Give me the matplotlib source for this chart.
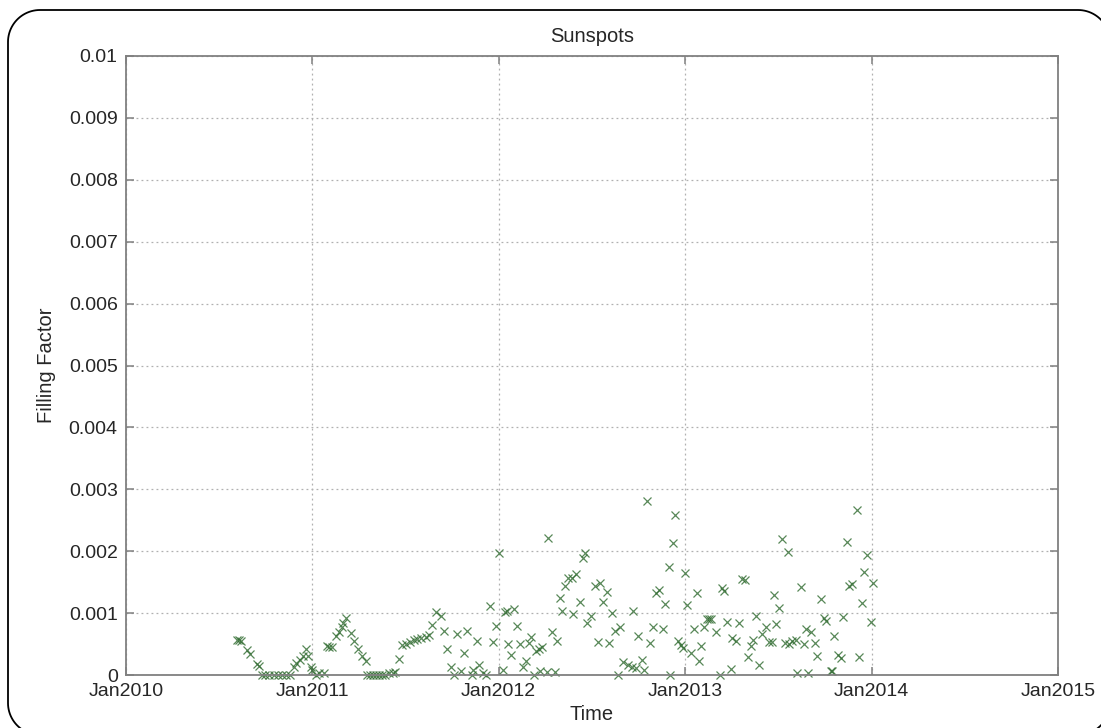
import matplotlib
matplotlib.use("Agg")
import matplotlib.pyplot as plt
import matplotlib.dates as mdates
from matplotlib.patches import Polygon
from matplotlib.ticker import FixedLocator, FuncFormatter
from matplotlib.transforms import IdentityTransform
import numpy as np
import pandas as pd

plt.rcParams['font.family'] = ['Liberation Sans', 'DejaVu Sans']

# ---- data ----
dates_2010 = ["2010-08-07", "2010-08-11", "2010-08-15", "2010-08-27", "2010-09-01", "2010-09-15",
              "2010-09-19", "2010-09-25", "2010-10-01", "2010-10-09", "2010-10-17", "2010-10-25",
              "2010-11-02", "2010-11-10", "2010-11-18", "2010-11-26", "2010-12-01", "2010-12-07",
              "2010-12-13", "2010-12-19", "2010-12-23", "2010-12-29"]
vals_2010 = [0.00056, 0.00057, 0.00055, 0.00040, 0.00034, 0.00018,
             0.00015, 0.0, 0.0, 0.0, 0.0, 0.0,
             0.0, 0.0, 0.0, 0.00013, 0.00020, 0.00024,
             0.00030, 0.00042, 0.00030, 0.00013]

dates_2011 = ["2011-01-01", "2011-01-09", "2011-01-15", "2011-01-23", "2011-01-29", "2011-02-03",
              "2011-02-09", "2011-02-17", "2011-02-23", "2011-03-01", "2011-03-03", "2011-03-09",
              "2011-03-17", "2011-03-23", "2011-03-31", "2011-04-08", "2011-04-16", "2011-04-18",
              "2011-04-24", "2011-04-30", "2011-05-06", "2011-05-12", "2011-05-18", "2011-05-24",
              "2011-06-01", "2011-06-09", "2011-06-13", "2011-06-19", "2011-06-25", "2011-07-03",
              "2011-07-11", "2011-07-19", "2011-07-25", "2011-08-01", "2011-08-11", "2011-08-17",
              "2011-08-23", "2011-09-01", "2011-09-11", "2011-09-17", "2011-09-21", "2011-09-29",
              "2011-10-05", "2011-10-11", "2011-10-19", "2011-10-25", "2011-11-01", "2011-11-09",
              "2011-11-11", "2011-11-19", "2011-11-23", "2011-12-01", "2011-12-07", "2011-12-15",
              "2011-12-21", "2011-12-27"]
vals_2011 = [0.00008, 0.0, 0.00003, 0.00003, 0.00047, 0.00046,
             0.00045, 0.00063, 0.00070, 0.00078, 0.00084, 0.00092,
             0.00068, 0.00055, 0.00042, 0.00030, 0.00023, 0.0,
             0.0, 0.0, 0.0, 0.0, 0.0, 0.0,
             0.00003, 0.00004, 0.00005, 0.00026, 0.00048, 0.00050,
             0.00053, 0.00056, 0.00058, 0.00060, 0.00062, 0.00065,
             0.00081, 0.00102, 0.00095, 0.00071, 0.00042, 0.00013,
             0.0, 0.00066, 0.00006, 0.00035, 0.00071, 0.0,
             0.00008, 0.00055, 0.00016, 0.00003, 0.0, 0.00111,
             0.00053, 0.00079]

dates_2012 = ["2012-01-01", "2012-01-09", "2012-01-13", "2012-01-18", "2012-01-20", "2012-01-25",
              "2012-01-31", "2012-02-06", "2012-02-12", "2012-02-18", "2012-02-24", "2012-03-01",
              "2012-03-05", "2012-03-11", "2012-03-15", "2012-03-20", "2012-03-22", "2012-03-27",
              "2012-04-04", "2012-04-06", "2012-04-14", "2012-04-20", "2012-04-24", "2012-05-01",
              "2012-05-05", "2012-05-11", "2012-05-15", "2012-05-24", "2012-05-26", "2012-06-01",
              "2012-06-09", "2012-06-15", "2012-06-19", "2012-06-23", "2012-07-01", "2012-07-07",
              "2012-07-13", "2012-07-17", "2012-07-23", "2012-07-31", "2012-08-05", "2012-08-11",
              "2012-08-17", "2012-08-21", "2012-08-25", "2012-09-01", "2012-09-11", "2012-09-19",
              "2012-09-21", "2012-09-27", "2012-10-01", "2012-10-07", "2012-10-11", "2012-10-17",
              "2012-10-23", "2012-10-29", "2012-11-05", "2012-11-11", "2012-11-19", "2012-11-23",
              "2012-11-29", "2012-12-01", "2012-12-07", "2012-12-11", "2012-12-17", "2012-12-23",
              "2012-12-27", "2012-12-31"]
vals_2012 = [0.00197, 0.00008, 0.00102, 0.00103, 0.00050, 0.00032,
             0.00107, 0.00079, 0.00050, 0.00013, 0.00023, 0.00052,
             0.00061, 0.0, 0.00039, 0.00042, 0.00006, 0.00045,
             0.00005, 0.00221, 0.00069, 0.00005, 0.00055, 0.00124,
             0.00103, 0.00143, 0.00157, 0.00157, 0.00099, 0.00163,
             0.00118, 0.00189, 0.00197, 0.00084, 0.00095, 0.00144,
             0.00053, 0.00149, 0.00118, 0.00134, 0.00052, 0.00100,
             0.00071, 0.0, 0.00078, 0.00021, 0.00016, 0.00013,
             0.00103, 0.00011, 0.00063, 0.00024, 0.00008, 0.00281,
             0.00052, 0.00078, 0.00132, 0.00137, 0.00074, 0.00115,
             0.00174, 0.0, 0.00213, 0.00258, 0.00055, 0.00048,
             0.00044, 0.00165]

dates_2013 = ["2013-01-05", "2013-01-11", "2013-01-17", "2013-01-23", "2013-01-27", "2013-02-01",
              "2013-02-07", "2013-02-13", "2013-02-17", "2013-02-21", "2013-03-01", "2013-03-09",
              "2013-03-13", "2013-03-17", "2013-03-23", "2013-03-31", "2013-04-02", "2013-04-10",
              "2013-04-16", "2013-04-22", "2013-04-28", "2013-05-03", "2013-05-09", "2013-05-13",
              "2013-05-19", "2013-05-25", "2013-06-01", "2013-06-07", "2013-06-13", "2013-06-19",
              "2013-06-23", "2013-06-27", "2013-07-03", "2013-07-09", "2013-07-15", "2013-07-21",
              "2013-07-23", "2013-07-29", "2013-08-05", "2013-08-07", "2013-08-15", "2013-08-21",
              "2013-08-25", "2013-08-29", "2013-09-04", "2013-09-12", "2013-09-16", "2013-09-24",
              "2013-09-30", "2013-10-03", "2013-10-13", "2013-10-15", "2013-10-19", "2013-10-27",
              "2013-11-02", "2013-11-06", "2013-11-14", "2013-11-18", "2013-11-24", "2013-12-03",
              "2013-12-07", "2013-12-13", "2013-12-17", "2013-12-23", "2013-12-31", "2014-01-03"]
vals_2013 = [0.00113, 0.00035, 0.00074, 0.00132, 0.00023, 0.00047,
             0.00078, 0.00090, 0.00091, 0.00090, 0.00069, 0.0,
             0.00140, 0.00136, 0.00086, 0.00010, 0.00060, 0.00055,
             0.00084, 0.00155, 0.00153, 0.00029, 0.00047, 0.00057,
             0.00095, 0.00016, 0.00066, 0.00078, 0.00053, 0.00053,
             0.00129, 0.00082, 0.00108, 0.00220, 0.00052, 0.00199,
             0.00050, 0.00055, 0.00057, 0.00003, 0.00142, 0.00050,
             0.00074, 0.00003, 0.00069, 0.00052, 0.00031, 0.00123,
             0.00092, 0.00087, 0.00006, 0.00006, 0.00063, 0.00032,
             0.00027, 0.00094, 0.00215, 0.00144, 0.00147, 0.00267,
             0.00029, 0.00116, 0.00166, 0.00194, 0.00086, 0.00149]

year_ticks = ["2010-01-01", "2011-01-01", "2012-01-01", "2013-01-01", "2014-01-01", "2015-01-01"]
y_ticks = [0.0, 0.001, 0.002, 0.003, 0.004, 0.005, 0.006, 0.007, 0.008, 0.009, 0.01]

title = "Sunspots"
xlabel = "Time"
ylabel = "Filling Factor"

# ---- figure ----
W, H = 1101, 728
fig = plt.figure(figsize=(W / 100, H / 100), dpi=100)


def rounded_rect(x0, y0, x1, y1, r, n=24):
    """Polyline of a rounded rectangle in display pixels (origin bottom-left)."""
    pts = []
    corners = [(x1 - r, y1 - r, 0), (x0 + r, y1 - r, 90),
               (x0 + r, y0 + r, 180), (x1 - r, y0 + r, 270)]
    for cx, cy, a0 in corners:
        t = np.radians(np.linspace(a0, a0 + 90, n))
        pts.extend(zip(cx + r * np.cos(t), cy + r * np.sin(t)))
    return np.array(pts)


# rounded frame around the figure, partly running off the canvas
frame = Polygon(rounded_rect(8, H - 735, 1110, H - 10, 32), closed=True,
                fill=False, ec='black', lw=1.3, transform=IdentityTransform())
fig.add_artist(frame)

ax = fig.add_axes([126 / W, (H - 675) / H, 932 / W, 619 / H])

all_dates = pd.to_datetime(dates_2010 + dates_2011 + dates_2012 + dates_2013)
all_vals = vals_2010 + vals_2011 + vals_2012 + vals_2013
ax.plot(all_dates, all_vals, linestyle='none', marker='x', color='#2f6a2f',
        ms=6, mew=0.9, alpha=0.8, zorder=3, clip_on=False)

ticks = pd.to_datetime(year_ticks)
ax.set_xlim(ticks[0], ticks[-1])
ax.set_ylim(y_ticks[0], y_ticks[-1])
ax.xaxis.set_major_locator(FixedLocator(mdates.date2num(ticks)))
ax.xaxis.set_major_formatter(mdates.DateFormatter('%b%Y'))
ax.yaxis.set_major_locator(FixedLocator(y_ticks))
ax.yaxis.set_major_formatter(FuncFormatter(lambda v, p: '%g' % round(v, 5)))

ax.grid(True, linestyle=(0, (1.5, 2.5)), color='#b0b0b0', lw=0.9)
ax.set_axisbelow(True)
for s in ax.spines.values():
    s.set_color('#808080')
    s.set_linewidth(1.3)
    s.set_zorder(4)
ax.tick_params(direction='in', length=6, width=1.1, color='#808080',
               labelsize=14, labelcolor='#262626', top=True, right=True, pad=6)

ax.set_title(title, fontsize=14.5, color='#262626', pad=10)
ax.set_xlabel(xlabel, fontsize=14.5, color='#262626', labelpad=3)
ax.set_ylabel(ylabel, fontsize=14.5, color='#262626', labelpad=9)

fig.savefig("out.png", dpi=100)
